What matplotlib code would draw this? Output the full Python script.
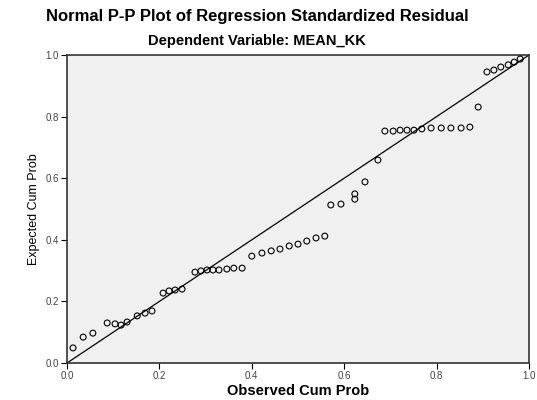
import matplotlib
matplotlib.use("Agg")
import matplotlib.pyplot as plt

# observed vs expected cumulative probability
observed = [0.013, 0.035, 0.056, 0.087, 0.104, 0.117, 0.130, 0.152, 0.169, 0.184,
            0.208, 0.221, 0.234, 0.249, 0.277, 0.290, 0.303, 0.316, 0.329, 0.346,
            0.361, 0.379, 0.400, 0.422, 0.442, 0.461, 0.481, 0.500, 0.519, 0.539,
            0.558, 0.571, 0.593, 0.623, 0.623, 0.645, 0.673, 0.688, 0.706, 0.721,
            0.736, 0.751, 0.768, 0.788, 0.810, 0.831, 0.853, 0.872, 0.890, 0.909,
            0.924, 0.939, 0.955, 0.968, 0.981]
expected = [0.049, 0.084, 0.097, 0.130, 0.127, 0.123, 0.133, 0.153, 0.162, 0.169,
            0.227, 0.234, 0.237, 0.240, 0.295, 0.299, 0.302, 0.302, 0.302, 0.305,
            0.308, 0.308, 0.347, 0.357, 0.364, 0.370, 0.380, 0.386, 0.396, 0.406,
            0.412, 0.513, 0.516, 0.532, 0.549, 0.588, 0.659, 0.753, 0.753, 0.756,
            0.756, 0.756, 0.760, 0.763, 0.763, 0.763, 0.763, 0.766, 0.831, 0.945,
            0.951, 0.961, 0.968, 0.977, 0.987]
ticks = [0.0, 0.2, 0.4, 0.6, 0.8, 1.0]

plt.rcParams["font.family"] = ["Liberation Sans", "DejaVu Sans"]

fig = plt.figure(figsize=(5.37, 4.0), dpi=100)
ax = fig.add_axes([67 / 537, 1 - 363 / 400, 462 / 537, 308 / 400])
ax.set_facecolor("#f0f0f0")

ax.plot([0, 1], [0, 1], color="black", lw=0.9, zorder=2)
ax.scatter(observed, expected, s=18, facecolor="none", edgecolor="black",
           linewidth=0.8, zorder=3)

ax.set_xlim(0, 1)
ax.set_ylim(0, 1)
ax.set_xticks(ticks)
ax.set_yticks(ticks)
ax.set_xticklabels([f"{t:.1f}" for t in ticks], fontsize=7, color="#444444")
ax.set_yticklabels([f"{t:.1f}" for t in ticks], fontsize=7, color="#444444")
ax.tick_params(direction="out", length=4, width=0.8, pad=2)
for spine in ax.spines.values():
    spine.set_linewidth(1.2)
    spine.set_color("#333333")

ax.set_xlabel("Observed Cum Prob", fontsize=10.5, fontweight="bold", labelpad=2)
ax.set_ylabel("Expected Cum Prob", fontsize=9, labelpad=4)

fig.text(257 / 537, 1 - 17 / 400, "Normal P-P Plot of Regression Standardized Residual",
         ha="center", va="center", fontsize=12, fontweight="bold")
fig.text(257 / 537, 1 - 41 / 400, "Dependent Variable: MEAN_KK",
         ha="center", va="center", fontsize=10.5, fontweight="bold")

fig.savefig("out.png", dpi=100)
